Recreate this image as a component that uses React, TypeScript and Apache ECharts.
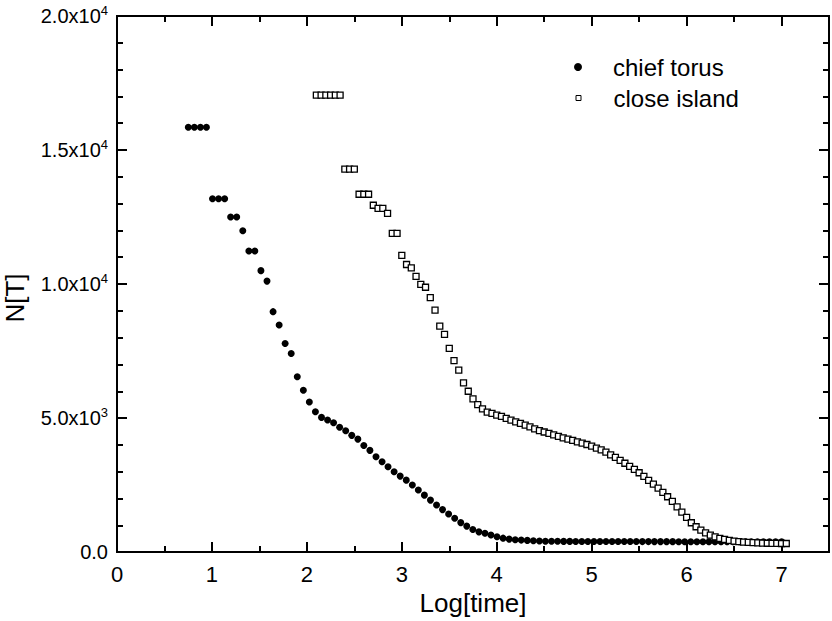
import React, { useEffect, useRef } from 'react';
import * as echarts from 'echarts';

// Chief torus: log10 of time and population N[T]
const chiefTorusLogTime = [
  0.751, 0.815, 0.879, 0.942, 1.006, 1.07, 1.134, 1.197, 1.261, 1.325,
  1.389, 1.452, 1.516, 1.58, 1.644, 1.708, 1.771, 1.835, 1.899, 1.963,
  2.026, 2.09, 2.154, 2.218, 2.281, 2.345, 2.409, 2.473, 2.537, 2.6,
  2.664, 2.728, 2.792, 2.855, 2.919, 2.983, 3.047, 3.111, 3.174, 3.238,
  3.302, 3.366, 3.429, 3.493, 3.557, 3.621, 3.684, 3.748, 3.812, 3.876,
  3.939, 4.003, 4.067, 4.131, 4.195, 4.258, 4.322, 4.386, 4.45, 4.513,
  4.577, 4.641, 4.705, 4.769, 4.832, 4.896, 4.96, 5.024, 5.087, 5.151,
  5.215, 5.279, 5.343, 5.406, 5.47, 5.534, 5.598, 5.661, 5.725, 5.789,
  5.853, 5.917, 5.98, 6.044, 6.108, 6.172, 6.235, 6.299, 6.363, 6.427,
  6.491, 6.554, 6.618, 6.682, 6.746, 6.809, 6.873, 6.937, 7.001,
];
const chiefTorusN = [
  15850, 15850, 15850, 15850, 13180, 13180, 13180, 12500, 12500, 11990,
  11230, 11230, 10500, 10110, 8970, 8470, 7780, 7410, 6540, 6040,
  5600, 5235, 5025, 4925, 4825, 4655, 4525, 4355, 4215, 3980,
  3795, 3560, 3370, 3185, 2995, 2835, 2685, 2500, 2315, 2125,
  1940, 1755, 1585, 1420, 1260, 1100, 970, 845, 755, 700,
  635, 570, 520, 485, 460, 448, 437, 422, 412, 408,
  405, 402, 400, 399, 398, 397, 397, 396, 396, 395,
  395, 394, 394, 393, 393, 392, 392, 391, 391, 390,
  390, 389, 389, 388, 388, 387, 387, 386, 386, 385,
  385, 384, 384, 383, 383, 382, 382, 381, 381,
];

// Close island: log10 of time and population N[T]
const closeIslandLogTime = [
  2.1, 2.15, 2.2, 2.25, 2.3, 2.35, 2.4, 2.45, 2.5, 2.55,
  2.6, 2.65, 2.7, 2.75, 2.8, 2.85, 2.9, 2.95, 3.0, 3.05,
  3.1, 3.15, 3.2, 3.25, 3.3, 3.35, 3.4, 3.45, 3.5, 3.55,
  3.6, 3.65, 3.7, 3.75, 3.8, 3.85, 3.9, 3.95, 4.0, 4.05,
  4.1, 4.15, 4.2, 4.25, 4.3, 4.35, 4.4, 4.45, 4.5, 4.55,
  4.6, 4.65, 4.7, 4.75, 4.8, 4.85, 4.9, 4.95, 5.0, 5.05,
  5.1, 5.15, 5.2, 5.25, 5.3, 5.35, 5.4, 5.45, 5.5, 5.55,
  5.6, 5.65, 5.7, 5.75, 5.8, 5.85, 5.9, 5.95, 6.0, 6.05,
  6.1, 6.15, 6.2, 6.25, 6.3, 6.35, 6.4, 6.45, 6.5, 6.55,
  6.6, 6.65, 6.7, 6.75, 6.8, 6.85, 6.9, 6.95, 7.0, 7.05,
];
const closeIslandN = [
  17050, 17050, 17050, 17050, 17050, 17050, 14290, 14290, 14290, 13350,
  13350, 13350, 12940, 12820, 12820, 12640, 11890, 11890, 11070, 10730,
  10600, 10290, 9990, 9880, 9490, 9030, 8430, 8120, 7600, 7140,
  6790, 6310, 6000, 5720, 5500, 5340, 5220, 5175, 5110, 5060,
  4990, 4925, 4860, 4800, 4740, 4675, 4600, 4530, 4480, 4430,
  4370, 4320, 4265, 4215, 4165, 4115, 4065, 4015, 3955, 3880,
  3815, 3730, 3630, 3535, 3425, 3315, 3200, 3085, 2960, 2825,
  2675, 2535, 2390, 2225, 2065, 1890, 1690, 1490, 1295, 1095,
  945, 820, 720, 635, 570, 515, 475, 435, 410, 390,
  375, 360, 355, 345, 335, 330, 325, 325, 320, 320,
];

const FONT = '"Liberation Sans", Arial, Helvetica, sans-serif';
const INK = '#000';

function sciLabel(v: number): string {
  if (v === 0) return '{m|0.0}';
  const e = Math.floor(Math.log10(v) + 1e-9);
  const m = (v / Math.pow(10, e)).toFixed(1);
  return `{m|${m}x10}{s|${e}}`;
}

export default function App() {
  const ref = useRef<HTMLDivElement>(null);

  useEffect(() => {
    if (!ref.current) return;
    const chart = echarts.init(ref.current, null, { renderer: 'svg' });

    const lineStyle = { color: INK, width: 2 };
    const xCommon = {
      type: 'value' as const,
      min: 0,
      max: 7.5,
      splitLine: { show: false },
      axisLine: { show: true, onZero: false, lineStyle },
    };
    const yCommon = {
      type: 'value' as const,
      min: 0,
      max: 20000,
      interval: 5000,
      splitLine: { show: false },
      axisLine: { show: true, onZero: false, lineStyle },
      axisTick: { show: true, inside: true, length: 10, lineStyle },
      minorTick: { show: true, splitNumber: 5, length: 6, lineStyle },
      minorSplitLine: { show: false },
    };
    const legendText = { fontSize: 24, fontFamily: FONT, color: INK };

    chart.setOption({
      animation: false,
      backgroundColor: '#fff',
      textStyle: { fontFamily: FONT, color: INK },
      grid: { left: 117, right: -4, top: 16, bottom: 68, containLabel: false },
      xAxis: [
        {
          ...xCommon,
          position: 'bottom',
          interval: 1,
          axisTick: { show: true, inside: true, length: 10, lineStyle },
          axisLabel: {
            show: true,
            fontSize: 22,
            fontFamily: FONT,
            color: INK,
            margin: 11,
            formatter: (v: number) => (Number.isInteger(v) ? String(v) : ''),
          },
          name: 'Log[time]',
          nameLocation: 'middle',
          nameGap: 36,
          nameTextStyle: { fontSize: 26, fontFamily: FONT, color: INK },
        },
        {
          ...xCommon,
          position: 'bottom',
          interval: 0.5,
          axisTick: { show: true, inside: true, length: 6, lineStyle },
          axisLabel: { show: false },
        },
        {
          ...xCommon,
          position: 'top',
          interval: 1,
          axisTick: { show: true, inside: true, length: 10, lineStyle },
          axisLabel: { show: false },
        },
        {
          ...xCommon,
          position: 'top',
          interval: 0.5,
          axisTick: { show: true, inside: true, length: 6, lineStyle },
          axisLabel: { show: false },
        },
      ],
      yAxis: [
        {
          ...yCommon,
          position: 'left',
          axisLabel: {
            show: true,
            margin: 9,
            formatter: sciLabel,
            rich: {
              m: { fontSize: 20, fontFamily: FONT, color: INK, lineHeight: 24 },
              s: { fontSize: 13, fontFamily: FONT, color: INK, lineHeight: 13, verticalAlign: 'top' },
            },
          },
        },
        {
          ...yCommon,
          position: 'right',
          axisLabel: { show: false },
        },
      ],
      legend: [
        {
          data: ['chief torus'],
          left: 574,
          top: 55,
          padding: 0,
          itemWidth: 8,
          itemHeight: 8,
          selectedMode: false,
          textStyle: { ...legendText, padding: [0, 0, 0, 26] },
          itemStyle: { color: INK, opacity: 1 },
        },
        {
          data: ['close island'],
          left: 575.5,
          top: 86,
          padding: 0,
          itemWidth: 5,
          itemHeight: 5,
          selectedMode: false,
          textStyle: { ...legendText, padding: [0, 0, 0, 27.5] },
          itemStyle: { color: '#fff', borderColor: INK, borderWidth: 1, opacity: 1 },
        },
      ],
      graphic: [
        {
          type: 'text',
          x: 15,
          y: 298,
          rotation: Math.PI / 2,
          style: {
            text: 'N[T]',
            font: `26px ${FONT}`,
            fill: INK,
            align: 'center',
            verticalAlign: 'middle',
          },
        },
      ],
      series: [
        {
          name: 'chief torus',
          type: 'scatter',
          xAxisIndex: 0,
          yAxisIndex: 0,
          symbol: 'circle',
          symbolSize: 7,
          itemStyle: { color: INK, opacity: 1 },
          data: chiefTorusLogTime.map((t, i) => [t, chiefTorusN[i]]),
        },
        {
          name: 'close island',
          type: 'scatter',
          xAxisIndex: 0,
          yAxisIndex: 0,
          symbol: 'rect',
          symbolSize: 6,
          itemStyle: { color: '#fff', borderColor: INK, borderWidth: 1.3, opacity: 1 },
          data: closeIslandLogTime.map((t, i) => [t, closeIslandN[i]]),
        },
      ],
    });

    return () => chart.dispose();
  }, []);

  return (
    <div
      ref={ref}
      style={{ position: 'absolute', left: 0, top: 0, width: 832, height: 621, background: '#fff' }}
    />
  );
}
